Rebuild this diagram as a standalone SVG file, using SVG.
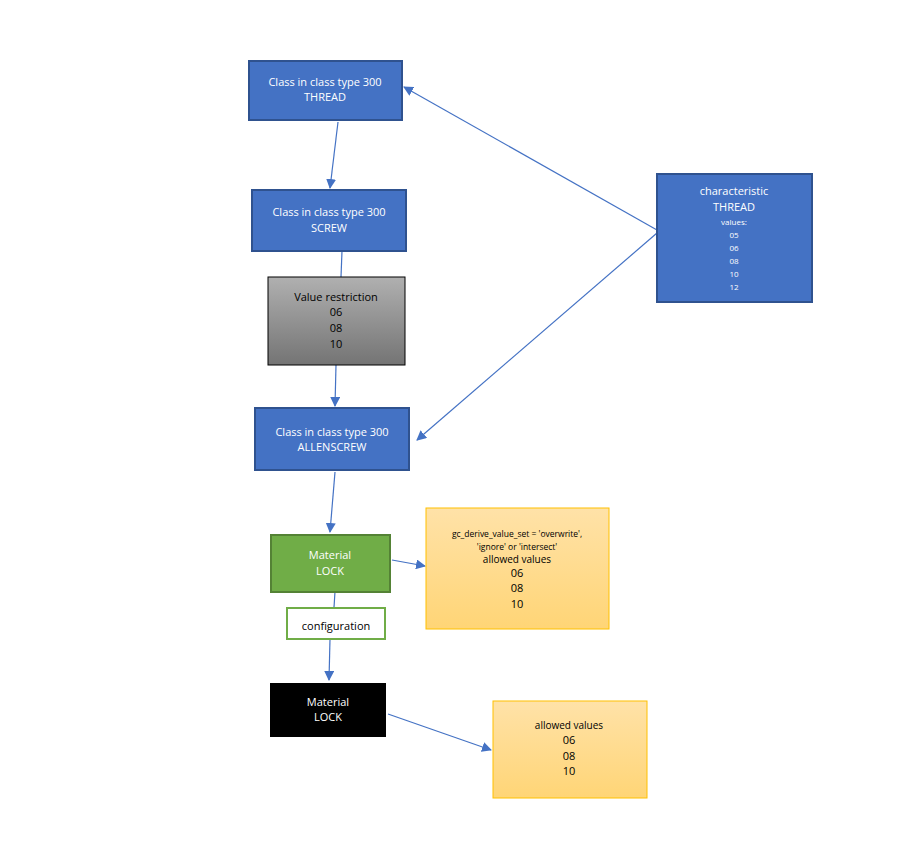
<svg xmlns="http://www.w3.org/2000/svg" width="908" height="866" viewBox="0 0 908 866">
<style>
text{font-family:"Open Sans","Liberation Sans",sans-serif;text-anchor:middle;font-size:11px}
text.s8{font-size:8px}text.s9{font-size:8.5px}text.s10{font-size:10px}
.w{fill:#fff}.k{fill:#000}
.blue{fill:#4472c4;stroke:#2f528f;stroke-width:2}
.c{stroke:#4472c4;stroke-width:1.2;fill:none}
</style>
<defs>
<marker id="a" viewBox="0 0 10 10" refX="9" refY="5" markerWidth="10" markerHeight="10" markerUnits="userSpaceOnUse" orient="auto"><path d="M0,0L10,5L0,10z" fill="#4472c4"/></marker>
<linearGradient id="g" x1="0" y1="0" x2="0" y2="1"><stop offset="0" stop-color="#b0b0b0"/><stop offset="1" stop-color="#747474"/></linearGradient>
<linearGradient id="o" x1="0" y1="0" x2="0" y2="1"><stop offset="0" stop-color="#ffe2a8"/><stop offset="1" stop-color="#ffd576"/></linearGradient>
</defs>
<rect width="908" height="866" fill="#fff"/>
<g id="connectors">
<path class="c" d="M338,122L330,188" marker-end="url(#a)"/>
<path class="c" d="M657,230L404,87" marker-end="url(#a)"/>
<path class="c" d="M657,233L417,440" marker-end="url(#a)"/>
<path class="c" d="M342,251L341,277"/>
<path class="c" d="M336,365L335,406" marker-end="url(#a)"/>
<path class="c" d="M335,472L330,532" marker-end="url(#a)"/>
<path class="c" d="M392,560L425,566" marker-end="url(#a)"/>
<path class="c" d="M335,592L334,607"/>
<path class="c" d="M330,639L329,680" marker-end="url(#a)"/>
<path class="c" d="M388,714L491,750" marker-end="url(#a)"/>
</g>
<g id="thread"><rect class="blue" x="249" y="61" width="153" height="59"/><text class="w" x="325" y="86">Class in class type 300</text><text class="w" x="325" y="101">THREAD</text></g>
<g id="screw"><rect class="blue" x="252" y="190" width="154" height="61"/><text class="w" x="329" y="216">Class in class type 300</text><text class="w" x="329" y="232">SCREW</text></g>
<g id="restriction"><rect x="268" y="277" width="137" height="88" fill="url(#g)" stroke="#000"/><text class="k" x="336" y="301">Value restriction</text><text class="k" x="336" y="316">06</text><text class="k" x="336" y="332">08</text><text class="k" x="336" y="348">10</text></g>
<g id="allenscrew"><rect class="blue" x="255" y="408" width="154" height="62"/><text class="w" x="332" y="436">Class in class type 300</text><text class="w" x="332" y="451">ALLENSCREW</text></g>
<g id="characteristic"><rect class="blue" x="657" y="174" width="155" height="128"/><text class="w" x="734" y="195">characteristic</text><text class="w" x="734" y="211">THREAD</text><text class="w s8" x="734" y="225">values:</text><text class="w s8" x="734" y="238">05</text><text class="w s8" x="734" y="251">06</text><text class="w s8" x="734" y="264">08</text><text class="w s8" x="734" y="277">10</text><text class="w s8" x="734" y="290">12</text></g>
<g id="material1"><rect x="271" y="535" width="119" height="57" fill="#70ad47" stroke="#548235" stroke-width="2"/><text class="w" x="330" y="559">Material</text><text class="w" x="330" y="575">LOCK</text></g>
<g id="config"><rect x="287" y="608" width="98" height="31" fill="#fff" stroke="#70ad47" stroke-width="2"/><text class="k" x="336" y="630">configuration</text></g>
<g id="material2"><rect x="270" y="683" width="116" height="54" fill="#000"/><text class="w" x="328" y="706">Material</text><text class="w" x="328" y="721">LOCK</text></g>
<g id="allowed1"><rect x="426" y="508" width="183" height="121" fill="url(#o)" stroke="#ffc000"/><text class="k s9" x="517" y="537">gc_derive_value_set = 'overwrite',</text><text class="k s9" x="517" y="550">'ignore' or 'intersect'</text><text class="k s10" x="517" y="563">allowed values</text><text class="k" x="517" y="577">06</text><text class="k" x="517" y="592">08</text><text class="k" x="517" y="608">10</text></g>
<g id="allowed2"><rect x="493" y="701" width="154" height="97" fill="url(#o)" stroke="#ffc000"/><text class="k s10" x="569" y="729">allowed values</text><text class="k" x="569" y="744">06</text><text class="k" x="569" y="760">08</text><text class="k" x="569" y="775">10</text></g>
</svg>
